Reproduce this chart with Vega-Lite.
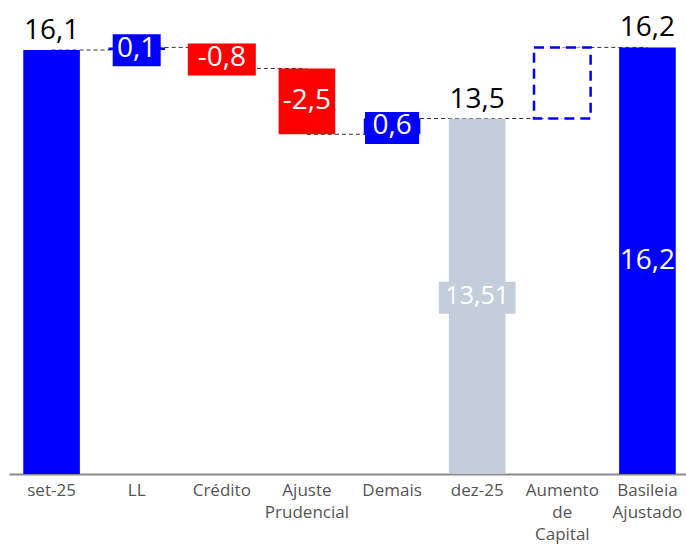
{
  "$schema": "https://vega.github.io/schema/vega-lite/v6.json",
  "width": 681,
  "height": 474,
  "autosize": {"type": "none"},
  "padding": {"left": 9, "top": 0, "right": 0, "bottom": 70},
  "background": "white",
  "config": {"view": {"stroke": null}},
  "datasets": {
    "bars": [
      {"cat": "set-25", "lo": 0, "hi": 16.1, "kind": "total", "lab": null, "top": "16,1"},
      {"cat": "LL", "lo": 16.1, "hi": 16.2, "kind": "up", "lab": "0,1", "top": null},
      {"cat": "Crédito", "lo": 15.4, "hi": 16.2, "kind": "down", "lab": "-0,8", "top": null},
      {"cat": "Ajuste Prudencial", "lo": 12.9, "hi": 15.4, "kind": "down", "lab": "-2,5", "top": null},
      {"cat": "Demais", "lo": 12.9, "hi": 13.5, "kind": "up", "lab": "0,6", "top": null},
      {"cat": "dez-25", "lo": 0, "hi": 13.5, "kind": "grey", "lab": "13,51", "top": "13,5"},
      {"cat": "Aumento de Capital", "lo": 13.5, "hi": 16.2, "kind": "dashed", "lab": null, "top": null},
      {"cat": "Basileia Ajustado", "lo": 0, "hi": 16.2, "kind": "total", "lab": "16,2", "top": "16,2"}
    ],
    "links": [
      {"from": "set-25", "to": "LL", "level": 16.1},
      {"from": "LL", "to": "Crédito", "level": 16.2},
      {"from": "Crédito", "to": "Ajuste Prudencial", "level": 15.4},
      {"from": "Ajuste Prudencial", "to": "Demais", "level": 12.9},
      {"from": "Demais", "to": "dez-25", "level": 13.5},
      {"from": "dez-25", "to": "Aumento de Capital", "level": 13.5},
      {"from": "Aumento de Capital", "to": "Basileia Ajustado", "level": 16.2}
    ]
  },
  "data": {"name": "bars"},
  "encoding": {
    "x": {
      "field": "cat",
      "type": "nominal",
      "title": null,
      "scale": {
        "domain": ["set-25", "LL", "Crédito", "Ajuste Prudencial", "Demais", "dez-25", "Aumento de Capital", "Basileia Ajustado"],
        "paddingInner": 0.335,
        "paddingOuter": 0.1675
      },
      "axis": {
        "labelAngle": 0,
        "labelExpr": "split(datum.label, ' ')",
        "ticks": false,
        "domainColor": "#8a8a8a",
        "domainWidth": 2,
        "labelFont": "Open Sans",
        "labelFontSize": 17,
        "labelColor": "#555555",
        "labelPadding": 8,
        "labelLineHeight": 22,
        "labelBaseline": "top",
        "labelOverlap": false,
        "labelBound": false
      }
    }
  },
  "layer": [
    {
      "data": {"name": "links"},
      "mark": {"type": "rule", "strokeDash": [4, 3], "strokeWidth": 1, "color": "#333333"},
      "encoding": {
        "x": {
          "field": "from",
          "type": "nominal",
          "title": null,
          "scale": {
            "domain": ["set-25", "LL", "Crédito", "Ajuste Prudencial", "Demais", "dez-25", "Aumento de Capital", "Basileia Ajustado"],
            "paddingInner": 0.335,
            "paddingOuter": 0.1675
          }
        },
        "x2": {"field": "to"},
        "y": {"field": "level", "type": "quantitative", "scale": {"domain": [0, 18], "nice": false}, "axis": null}
      }
    },
    {
      "transform": [{"filter": "datum.kind != 'dashed'"}],
      "mark": {"type": "bar"},
      "encoding": {
        "y": {"field": "lo", "type": "quantitative", "scale": {"domain": [0, 18], "nice": false}, "axis": null},
        "y2": {"field": "hi"},
        "color": {
          "field": "kind",
          "type": "nominal",
          "scale": {"domain": ["total", "up", "down", "grey", "dashed"], "range": ["#0000FF", "#0000FF", "#FF0000", "#C4CEDB", "#0000FF"]},
          "legend": null
        }
      }
    },
    {
      "transform": [{"filter": "datum.kind == 'dashed'"}],
      "mark": {"type": "bar", "fill": "white", "stroke": "#0000FF", "strokeWidth": 2.5, "strokeDash": [10, 6]},
      "encoding": {
        "y": {"field": "lo", "type": "quantitative"},
        "y2": {"field": "hi"}
      }
    },
    {
      "transform": [
        {"filter": {"field": "cat", "oneOf": ["LL", "Crédito", "Demais", "dez-25"]}},
        {"calculate": "(datum.lo + datum.hi) / 2", "as": "mid"}
      ],
      "mark": {"type": "point", "filled": true, "opacity": 1, "size": 1024, "strokeWidth": 0, "yOffset": 1.5},
      "encoding": {
        "y": {"field": "mid", "type": "quantitative"},
        "shape": {
          "field": "cat",
          "type": "nominal",
          "scale": {
            "domain": ["LL", "Crédito", "Demais", "dez-25"],
            "range": ["M-1.5,-1H1.5V1H-1.5Z", "M-2.125,-1H2.125V1H-2.125Z", "M-1.69,-1H1.69V1H-1.69Z", "M-2.4,-1H2.4V1H-2.4Z"]
          },
          "legend": null
        },
        "color": {"field": "kind", "type": "nominal"}
      }
    },
    {
      "transform": [
        {"filter": "datum.lab != null"},
        {"calculate": "(datum.lo + datum.hi) / 2", "as": "mid"}
      ],
      "mark": {"type": "text", "color": "white", "font": "Open Sans", "baseline": "middle", "align": "center"},
      "encoding": {
        "y": {"field": "mid", "type": "quantitative"},
        "text": {"field": "lab"},
        "size": {"condition": {"test": "datum.cat == 'dez-25'", "value": 25}, "value": 28}
      }
    },
    {
      "transform": [{"filter": "datum.top != null"}],
      "mark": {"type": "text", "color": "black", "font": "Open Sans", "fontSize": 28, "baseline": "alphabetic", "align": "center", "dy": -11},
      "encoding": {
        "y": {"field": "hi", "type": "quantitative"},
        "text": {"field": "top"}
      }
    }
  ]
}
